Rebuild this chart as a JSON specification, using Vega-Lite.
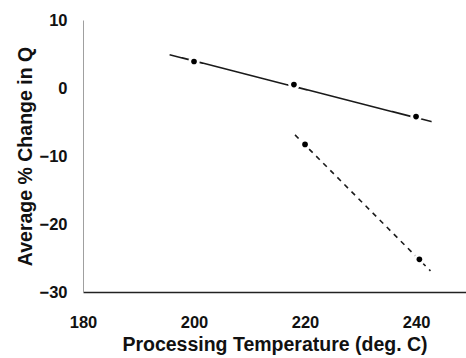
{
  "$schema": "https://vega.github.io/schema/vega-lite/v6.json",
  "width": 383,
  "height": 272,
  "autosize": {"type": "none"},
  "padding": {"left": 83, "top": 20, "right": 0, "bottom": 66},
  "background": "white",
  "config": {
    "view": {"stroke": null},
    "font": "Liberation Sans",
    "axis": {
      "labelFont": "Liberation Sans",
      "titleFont": "Liberation Sans",
      "labelFontWeight": "bold",
      "titleFontWeight": "bold",
      "labelColor": "#111111",
      "titleColor": "#111111",
      "labelFontSize": 16.5,
      "titleFontSize": 19.5,
      "grid": false,
      "ticks": false
    }
  },
  "datasets": {
    "pts": [
      {"series": "A", "temp": 200, "change": 3.9},
      {"series": "A", "temp": 218, "change": 0.5},
      {"series": "A", "temp": 240, "change": -4.2},
      {"series": "B", "temp": 220, "change": -8.3},
      {"series": "B", "temp": 240.6, "change": -25.2}
    ],
    "fits": [
      {"series": "A", "temp": 195.6, "change": 4.9},
      {"series": "A", "temp": 242.8, "change": -4.95},
      {"series": "B", "temp": 218.2, "change": -6.9},
      {"series": "B", "temp": 242.6, "change": -26.9}
    ]
  },
  "layer": [
    {
      "mark": {"type": "rule", "color": "#9a9a9a", "strokeWidth": 1, "strokeDash": [6, 3]},
      "encoding": {"y": {"datum": 10, "type": "quantitative", "scale": {"domain": [-30, 10]}}}
    },
    {
      "data": {"name": "fits"},
      "mark": {"type": "line", "color": "#1a1a1a", "strokeWidth": 1.6},
      "encoding": {
        "x": {"field": "temp", "type": "quantitative"},
        "y": {"field": "change", "type": "quantitative"},
        "detail": {"field": "series"},
        "strokeDash": {
          "field": "series",
          "type": "nominal",
          "scale": {"domain": ["A", "B"], "range": [[1, 0], [5, 5]]},
          "legend": null
        }
      }
    },
    {
      "data": {"name": "pts"},
      "mark": {"type": "point", "filled": true, "shape": "circle", "size": 130, "color": "white", "opacity": 1},
      "encoding": {
        "x": {"field": "temp", "type": "quantitative"},
        "y": {"field": "change", "type": "quantitative"}
      }
    },
    {
      "data": {"name": "pts"},
      "mark": {"type": "point", "filled": true, "shape": "circle", "size": 32, "color": "#000000", "opacity": 1},
      "encoding": {
        "x": {
          "field": "temp",
          "type": "quantitative",
          "scale": {"domain": [180, 249], "nice": false, "zero": false},
          "axis": {
            "title": "Processing Temperature (deg. C)",
            "values": [180, 200, 220, 240],
            "labelFlush": false,
            "labelOverlap": false,
            "labelPadding": 22,
            "titlePadding": 5,
            "domainColor": "#222222",
            "domainWidth": 1.6
          }
        },
        "y": {
          "field": "change",
          "type": "quantitative",
          "scale": {"domain": [-30, 10], "nice": false, "zero": false},
          "axis": {
            "title": "Average % Change in Q",
            "values": [-30, -20, -10, 0, 10],
            "labelPadding": 16,
            "titlePadding": 4,
            "domainColor": "#a0a0a0",
            "domainWidth": 1
          }
        }
      }
    }
  ]
}
